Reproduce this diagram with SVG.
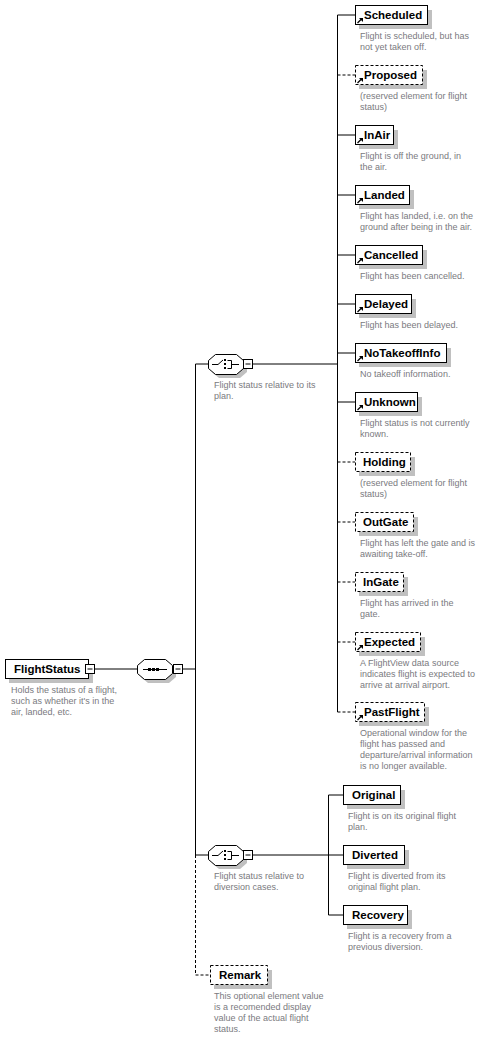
<svg xmlns="http://www.w3.org/2000/svg" width="499" height="1040" viewBox="0 0 499 1040">
<style>
.box{fill:#fff;stroke:#000;stroke-width:1}
.opt{stroke-dasharray:3,2}
.sh{fill:#c0c0c0}
.nm{font-family:"Liberation Sans",Arial,sans-serif;font-weight:bold;font-size:11.5px;fill:#000}
.ds{font-family:"Liberation Sans",Arial,sans-serif;font-size:9px;fill:#7a7a80}
.ln{stroke:#000;stroke-width:1;fill:none}
.dl{stroke:#000;stroke-width:1;fill:none;stroke-dasharray:3,2}
</style>
<defs>
<g id="arr"><path d="M0.5,5 L4.5,1" stroke="#000" stroke-width="1.3" fill="none"/><path d="M2,0 L6,0 L6,4 Z" fill="#000"/></g>
<g id="minus"><rect x="0.5" y="0.5" width="9" height="9" fill="#fff" stroke="#000"/><path d="M2.5,5 H7.5" stroke="#000"/></g>
<path id="oct" d="M7,0 H28 L35,6 V14 L28,20 H7 L0,14 V6 Z"/>
</defs>

<g id="connectors">
<path class="ln" d="M95,669 H137"/>
<path class="ln" d="M183,669 H195.5"/>
<path class="ln" d="M195.5,364 V855"/>
<path class="dl" d="M195.5,855 V975 H210"/>
<path class="ln" d="M195.5,364 H208"/>
<path class="ln" d="M195.5,855 H208"/>
<path class="ln" d="M253,364 H337.5"/>
<path class="ln" d="M337.5,15 V712"/>
<path class="ln" d="M337.5,15 H355"/>
<path class="dl" d="M337.5,75 H355"/>
<path class="ln" d="M337.5,135 H355"/>
<path class="ln" d="M337.5,195 H355"/>
<path class="ln" d="M337.5,255 H355"/>
<path class="ln" d="M337.5,304 H355"/>
<path class="ln" d="M337.5,353 H355"/>
<path class="ln" d="M337.5,402 H355"/>
<path class="dl" d="M337.5,462 H355"/>
<path class="dl" d="M337.5,522 H355"/>
<path class="dl" d="M337.5,582 H355"/>
<path class="dl" d="M337.5,642 H355"/>
<path class="dl" d="M337.5,712 H355"/>
<path class="ln" d="M253,855 H328.5"/>
<path class="ln" d="M328.5,795 V915"/>
<path class="ln" d="M328.5,795 H343"/>
<path class="ln" d="M328.5,855 H343"/>
<path class="ln" d="M328.5,915 H343"/>
</g>

<g id="FlightStatus">
<rect class="sh" x="9" y="664" width="84" height="19"/>
<rect class="box" x="5.5" y="659.5" width="83" height="19"/>
<use href="#minus" x="85" y="664"/>
<text class="nm" x="14" y="673">FlightStatus</text>
<text class="ds" x="11" y="693">Holds the status of a flight,</text>
<text class="ds" x="11" y="704">such as whether it's in the</text>
<text class="ds" x="11" y="715">air, landed, etc.</text>
</g>

<g id="sequence">
<use href="#oct" x="141" y="663" class="sh"/>
<use href="#oct" x="137.5" y="659.5" fill="#fff" stroke="#000"/>
<path class="ln" d="M143,669.5 H167"/>
<rect x="148" y="668" width="3" height="3" fill="#000"/>
<rect x="152" y="668" width="3" height="3" fill="#000"/>
<rect x="156" y="668" width="3" height="3" fill="#000"/>
<use href="#minus" x="173" y="664"/>
</g>

<g id="choice1">
<use href="#oct" x="212" y="358" class="sh"/>
<use href="#oct" x="208.5" y="354.5" fill="#fff" stroke="#000"/>
<path class="ln" d="M212,364.5 H218 L223,360"/>
<rect x="224" y="359" width="2" height="2" fill="#000"/>
<rect x="224" y="363" width="2" height="2" fill="#000"/>
<rect x="224" y="367" width="2" height="2" fill="#000"/>
<path class="ln" d="M227.5,360.5 H231.5 V368.5 H227.5 M231.5,364.5 H239"/>
<use href="#minus" x="243" y="359"/>
<text class="ds" x="214" y="388">Flight status relative to its</text>
<text class="ds" x="214" y="399">plan.</text>
</g>

<g id="choice2">
<use href="#oct" x="212" y="849" class="sh"/>
<use href="#oct" x="208.5" y="845.5" fill="#fff" stroke="#000"/>
<path class="ln" d="M212,855.5 H218 L223,851"/>
<rect x="224" y="850" width="2" height="2" fill="#000"/>
<rect x="224" y="854" width="2" height="2" fill="#000"/>
<rect x="224" y="858" width="2" height="2" fill="#000"/>
<path class="ln" d="M227.5,851.5 H231.5 V859.5 H227.5 M231.5,855.5 H239"/>
<use href="#minus" x="243" y="850"/>
<text class="ds" x="214" y="879">Flight status relative to</text>
<text class="ds" x="214" y="890">diversion cases.</text>
</g>

<g id="Scheduled">
<rect class="sh" x="359" y="10" width="73" height="19"/>
<rect class="box" x="355.5" y="5.5" width="72" height="19"/>
<use href="#arr" x="357" y="18"/>
<text class="nm" x="364" y="19">Scheduled</text>
<text class="ds" x="360" y="39">Flight is scheduled, but has</text>
<text class="ds" x="360" y="50">not yet taken off.</text>
</g>

<g id="Proposed">
<rect class="sh" x="359" y="70" width="68" height="19"/>
<rect class="box opt" x="355.5" y="65.5" width="67" height="19"/>
<use href="#arr" x="357" y="78"/>
<text class="nm" x="364" y="79">Proposed</text>
<text class="ds" x="360" y="99">(reserved element for flight</text>
<text class="ds" x="360" y="110">status)</text>
</g>

<g id="InAir">
<rect class="sh" x="359" y="130" width="39" height="19"/>
<rect class="box" x="355.5" y="125.5" width="38" height="19"/>
<use href="#arr" x="357" y="138"/>
<text class="nm" x="364" y="139">InAir</text>
<text class="ds" x="360" y="159">Flight is off the ground, in</text>
<text class="ds" x="360" y="170">the air.</text>
</g>

<g id="Landed">
<rect class="sh" x="359" y="190" width="55" height="19"/>
<rect class="box" x="355.5" y="185.5" width="54" height="19"/>
<use href="#arr" x="357" y="198"/>
<text class="nm" x="364" y="199">Landed</text>
<text class="ds" x="360" y="219">Flight has landed, i.e. on the</text>
<text class="ds" x="360" y="230">ground after being in the air.</text>
</g>

<g id="Cancelled">
<rect class="sh" x="359" y="250" width="68" height="19"/>
<rect class="box" x="355.5" y="245.5" width="67" height="19"/>
<use href="#arr" x="357" y="258"/>
<text class="nm" x="364" y="259">Cancelled</text>
<text class="ds" x="360" y="279">Flight has been cancelled.</text>
</g>

<g id="Delayed">
<rect class="sh" x="359" y="299" width="57" height="19"/>
<rect class="box" x="355.5" y="294.5" width="56" height="19"/>
<use href="#arr" x="357" y="307"/>
<text class="nm" x="364" y="308">Delayed</text>
<text class="ds" x="360" y="328">Flight has been delayed.</text>
</g>

<g id="NoTakeoffInfo">
<rect class="sh" x="359" y="348" width="92" height="19"/>
<rect class="box" x="355.5" y="343.5" width="91" height="19"/>
<use href="#arr" x="357" y="356"/>
<text class="nm" x="364" y="357">NoTakeoffInfo</text>
<text class="ds" x="360" y="377">No takeoff information.</text>
</g>

<g id="Unknown">
<rect class="sh" x="359" y="397" width="63" height="19"/>
<rect class="box" x="355.5" y="392.5" width="62" height="19"/>
<use href="#arr" x="357" y="405"/>
<text class="nm" x="364" y="406">Unknown</text>
<text class="ds" x="360" y="426">Flight status is not currently</text>
<text class="ds" x="360" y="437">known.</text>
</g>

<g id="Holding">
<rect class="sh" x="359" y="457" width="56" height="19"/>
<rect class="box opt" x="355.5" y="452.5" width="55" height="19"/>
<text class="nm" x="363" y="466">Holding</text>
<text class="ds" x="360" y="486">(reserved element for flight</text>
<text class="ds" x="360" y="497">status)</text>
</g>

<g id="OutGate">
<rect class="sh" x="359" y="517" width="59" height="19"/>
<rect class="box opt" x="355.5" y="512.5" width="58" height="19"/>
<text class="nm" x="363" y="526">OutGate</text>
<text class="ds" x="360" y="546">Flight has left the gate and is</text>
<text class="ds" x="360" y="557">awaiting take-off.</text>
</g>

<g id="InGate">
<rect class="sh" x="359" y="577" width="49" height="19"/>
<rect class="box opt" x="355.5" y="572.5" width="48" height="19"/>
<text class="nm" x="363" y="586">InGate</text>
<text class="ds" x="360" y="606">Flight has arrived in the</text>
<text class="ds" x="360" y="617">gate.</text>
</g>

<g id="Expected">
<rect class="sh" x="359" y="637" width="66" height="19"/>
<rect class="box opt" x="355.5" y="632.5" width="65" height="19"/>
<use href="#arr" x="357" y="645"/>
<text class="nm" x="364" y="646">Expected</text>
<text class="ds" x="360" y="666">A FlightView data source</text>
<text class="ds" x="360" y="677">indicates flight is expected to</text>
<text class="ds" x="360" y="688">arrive at arrival airport.</text>
</g>

<g id="PastFlight">
<rect class="sh" x="359" y="707" width="70" height="19"/>
<rect class="box opt" x="355.5" y="702.5" width="69" height="19"/>
<use href="#arr" x="357" y="715"/>
<text class="nm" x="364" y="716">PastFlight</text>
<text class="ds" x="360" y="736">Operational window for the</text>
<text class="ds" x="360" y="747">flight has passed and</text>
<text class="ds" x="360" y="758">departure/arrival information</text>
<text class="ds" x="360" y="769">is no longer available.</text>
</g>

<g id="Original">
<rect class="sh" x="347" y="790" width="58" height="19"/>
<rect class="box" x="343.5" y="785.5" width="57" height="19"/>
<text class="nm" x="352" y="799">Original</text>
<text class="ds" x="348" y="819">Flight is on its original flight</text>
<text class="ds" x="348" y="830">plan.</text>
</g>

<g id="Diverted">
<rect class="sh" x="347" y="850" width="62" height="19"/>
<rect class="box" x="343.5" y="845.5" width="61" height="19"/>
<text class="nm" x="352" y="859">Diverted</text>
<text class="ds" x="348" y="879">Flight is diverted from its</text>
<text class="ds" x="348" y="890">original flight plan.</text>
</g>

<g id="Recovery">
<rect class="sh" x="347" y="910" width="65" height="19"/>
<rect class="box" x="343.5" y="905.5" width="64" height="19"/>
<text class="nm" x="352" y="919">Recovery</text>
<text class="ds" x="348" y="939">Flight is a recovery from a</text>
<text class="ds" x="348" y="950">previous diversion.</text>
</g>

<g id="Remark">
<rect class="sh" x="214" y="970" width="58" height="19"/>
<rect class="box opt" x="210.5" y="965.5" width="57" height="19"/>
<text class="nm" x="219" y="979">Remark</text>
<text class="ds" x="214" y="999">This optional element value</text>
<text class="ds" x="214" y="1010">is a recomended display</text>
<text class="ds" x="214" y="1021">value of the actual flight</text>
<text class="ds" x="214" y="1032">status.</text>
</g>
</svg>
